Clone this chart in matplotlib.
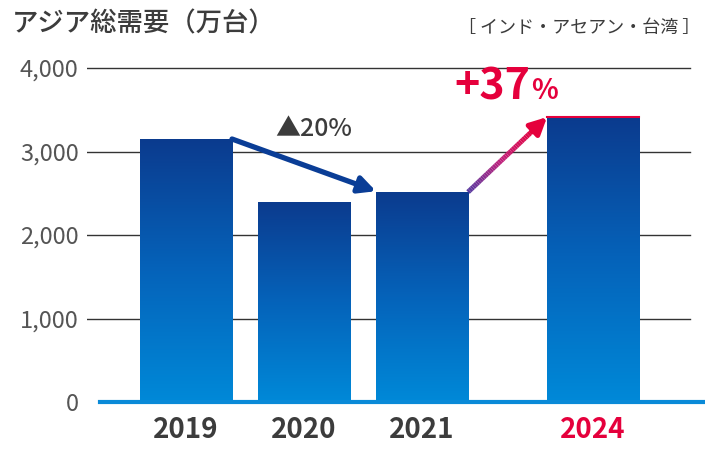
import numpy as np
import matplotlib
matplotlib.use("Agg")
import matplotlib.pyplot as plt
from matplotlib.colors import LinearSegmentedColormap
from matplotlib.collections import LineCollection

plt.rcParams['font.family'] = ['Noto Sans CJK JP', 'DejaVu Sans']

# data
years = ['2019', '2020', '2021', '2024']
positions = [0, 1, 2, 3.45]
demand = [3150, 2395, 2515, 3413]
y_ticks = [0, 1000, 2000, 3000, 4000]
y_tick_labels = ['0', '1,000', '2,000', '3,000', '4,000']
title = 'アジア総需要（万台）'
region_note = '［ インド・アセアン・台湾 ］'
drop_label = '▲20%'
rise_label = '+37'

dark_gray = '#3c3c3c'
red = '#e5003c'
bar_cmap = LinearSegmentedColormap.from_list('bar', ['#0089d8', '#0563ba', '#0b3b8e'])
rise_cmap = LinearSegmentedColormap.from_list('rise', ['#5a3aa0', '#c0207a', red])

fig = plt.figure(figsize=(7.05, 4.53), dpi=100)
ax_l, ax_r = 87, 705
ax = fig.add_axes([ax_l / 705, 51 / 453, (ax_r - ax_l) / 705, 359 / 453])

xmin, xmax = (ax_l - 186) / 118, (ax_r - 186) / 118
ax_w = ax_r - ax_l

# grid
for t in y_ticks[1:]:
    ax.axhline(t, xmin=0, xmax=(690 - ax_l) / ax_w, color='#333333', lw=1.0, zorder=1)

# gradient bars
w = 0.78
grad = np.linspace(0, 1, 256).reshape(-1, 1)
for x, v in zip(positions, demand):
    ax.imshow(grad, extent=[x - w / 2, x + w / 2, 0, v], origin='lower',
              cmap=bar_cmap, aspect='auto', zorder=2)
ax.set_xlim(xmin, xmax)
ax.set_ylim(0, 4300)

# red top on 2024
ax.plot([positions[3] - w / 2, positions[3] + w / 2], [demand[3], demand[3]],
        color=red, lw=1.5, zorder=3)

# baseline
ax.axhline(0, xmin=(100 - ax_l) / ax_w, xmax=1, color='#0a8ad8', lw=3, zorder=4, clip_on=False)

# blue arrow 2019 -> 2021
ax.annotate('', xy=(positions[2] - w / 2, demand[2] + 10),
            xytext=(positions[0] + w / 2, demand[0]),
            arrowprops=dict(arrowstyle='-|>,head_length=1.0,head_width=0.5',
                            color='#0a3d96', lw=3.8, shrinkA=0, shrinkB=0), zorder=5)

# gradient arrow 2021 -> 2024
x0, y0 = positions[2] + w / 2, demand[2]
x1, y1 = positions[3] - w / 2, demand[3]
n = 40
fx = np.linspace(x0, x0 + (x1 - x0) * 0.85, n)
fy = np.linspace(y0, y0 + (y1 - y0) * 0.85, n)
segs = [[(fx[i], fy[i]), (fx[i + 1], fy[i + 1])] for i in range(n - 1)]
lc = LineCollection(segs, cmap=rise_cmap, linewidths=3.6, zorder=5)
lc.set_array(np.linspace(0, 1, n - 1))
ax.add_collection(lc)
ax.annotate('', xy=(x1, y1), xytext=(fx[-3], fy[-3]),
            arrowprops=dict(arrowstyle='-|>,head_length=1.0,head_width=0.5',
                            color=red, lw=3.6, shrinkA=0, shrinkB=0), zorder=6)

# labels
ax.text((314 - 186) / 118, (402 - 129) / 83.5 * 1000, drop_label, ha='center', va='center',
        fontsize=18, fontweight='medium', color=dark_gray, zorder=6)
ax.text((530 - 186) / 118, (402 - 86) / 83.5 * 1000, rise_label, ha='right', va='center',
        fontsize=31, fontweight='bold', color=red, zorder=6)
ax.text((531 - 186) / 118, (402 - 91) / 83.5 * 1000, '%', ha='left', va='center',
        fontsize=20, fontweight='bold', color=red, zorder=6)

# ticks
ax.set_yticks(y_ticks)
ax.set_yticklabels(y_tick_labels, fontsize=17, color='#555555')
ax.set_xticks(positions)
ax.set_xticklabels(years, fontsize=20, fontweight='bold', color=dark_gray)
ax.get_xticklabels()[3].set_color(red)
ax.tick_params(length=0)
ax.tick_params(axis='y', pad=6)
ax.tick_params(axis='x', pad=10)
for s in ax.spines.values():
    s.set_visible(False)

fig.text(12 / 705, 1 - 24 / 453, title, ha='left', va='center', fontsize=19,
         fontweight='medium', color=dark_gray)
fig.text(700 / 705, 1 - 28 / 453, region_note, ha='right', va='center', fontsize=13,
         color=dark_gray)

fig.savefig('out.png', dpi=100)
